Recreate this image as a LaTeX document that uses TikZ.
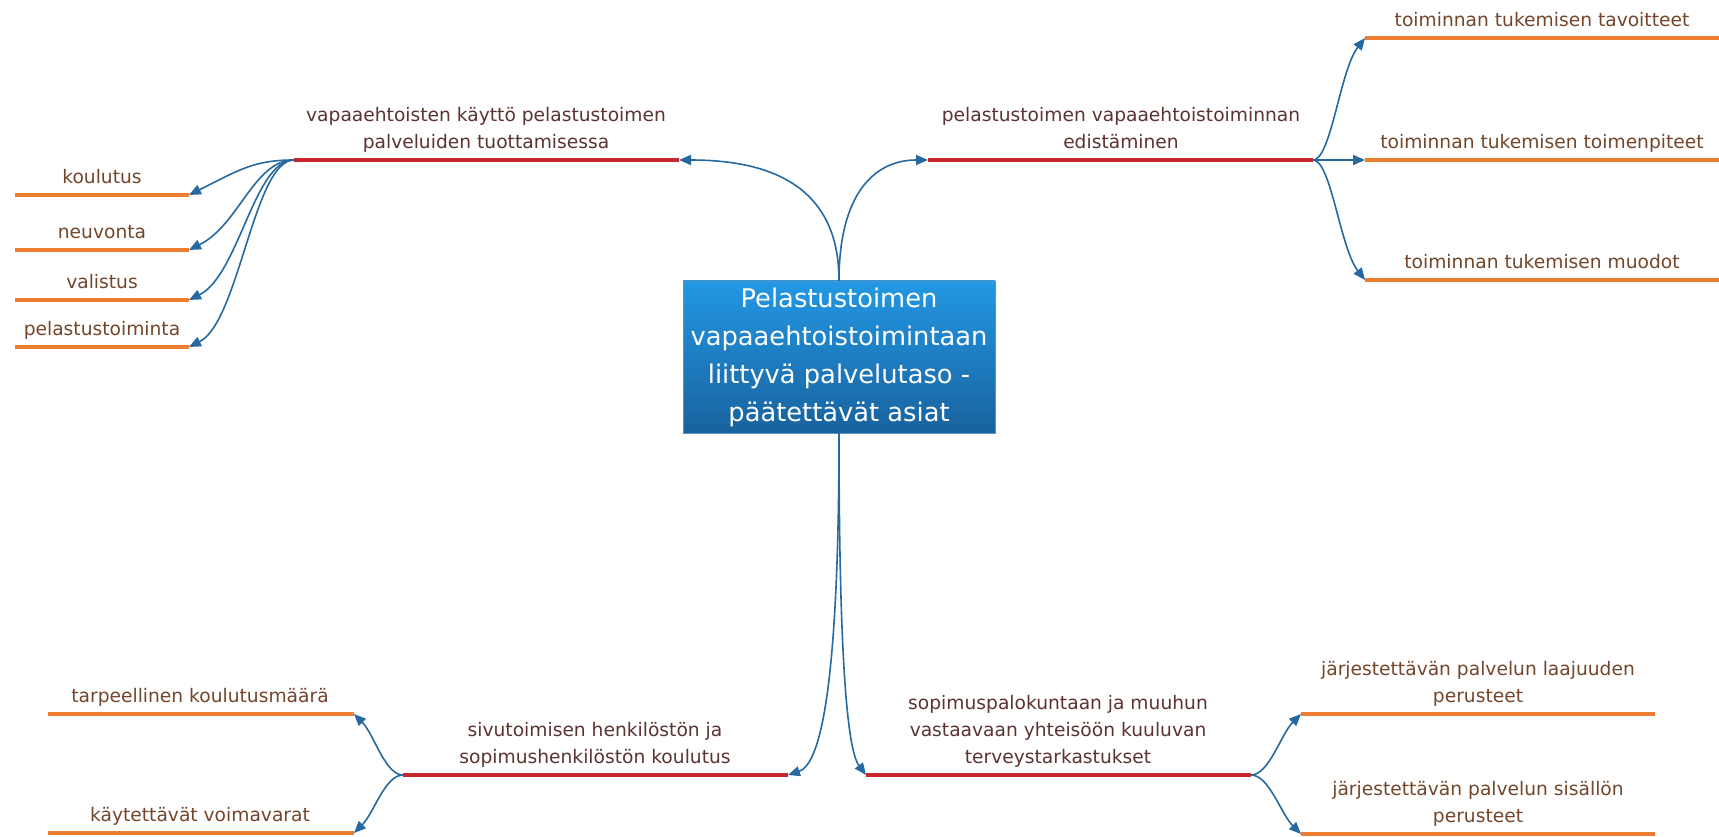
\documentclass[tikz,border=0pt]{standalone}
\usepackage{fontspec}
\setmainfont{DejaVu Sans}
\usetikzlibrary{arrows.meta}

\definecolor{connblue}{RGB}{38,105,160}
\definecolor{mainred}{RGB}{200,40,45}
\definecolor{suborange}{RGB}{237,125,49}
\definecolor{topictext}{RGB}{92,50,50}
\definecolor{subtext}{RGB}{115,70,42}
\definecolor{boxtop}{RGB}{35,152,228}
\definecolor{boxbot}{RGB}{24,98,158}

\begin{document}
\begin{tikzpicture}[x=0.75pt,y=-0.75pt,
  conn/.style={draw=connblue, line width=1.2pt, -{Triangle[length=9pt,width=7.5pt]}},
  redline/.style={draw=mainred, line width=3.6pt},
  orangeline/.style={draw=suborange, line width=3.4pt},
  rootbox/.style={top color=boxtop, bottom color=boxbot, draw=boxbot!70!white, line width=0.4pt,
    minimum width=234pt, minimum height=114pt, inner sep=0pt, align=center, text=white,
    font=\fontsize{19.3}{28.5}\selectfont},
  topiclabel/.style={anchor=south, inner sep=0pt, text depth=0pt, align=center, text=topictext,
    font=\fontsize{14}{20.25}\selectfont},
  sublabel/.style={anchor=south, inner sep=0pt, text depth=0pt, align=center, text=subtext,
    font=\fontsize{14}{20.25}\selectfont}]

\useasboundingbox (0,0) rectangle (1719,837);

% central topic
\node[rootbox] (root) at (839,357) {Pelastustoimen\\vapaaehtoistoimintaan\\liittyvä palvelutaso -\\päätettävät asiat};

% main topic underlines
\coordinate (t1L) at (294,160);  \coordinate (t1R) at (679,160);
\coordinate (t2L) at (928,160);  \coordinate (t2R) at (1313,160);
\coordinate (b1L) at (403,775);  \coordinate (b1R) at (788,775);
\coordinate (b2L) at (866,775);  \coordinate (b2R) at (1251,775);
\draw[redline] (t1L) -- (t1R);
\draw[redline] (t2L) -- (t2R);
\draw[redline] (b1L) -- (b1R);
\draw[redline] (b2L) -- (b2R);

\node[topiclabel] (t1txt) at (486,149) {vapaaehtoisten käyttö pelastustoimen\\palveluiden tuottamisessa};
\node[topiclabel] (t2txt) at (1121,149) {pelastustoimen vapaaehtoistoiminnan\\edistäminen};
\node[topiclabel] (b1txt) at (595,764) {sivutoimisen henkilöstön ja\\sopimushenkilöstön koulutus};
\node[topiclabel] (b2txt) at (1058,764) {sopimuspalokuntaan ja muuhun\\vastaavaan yhteisöön kuuluvan\\terveystarkastukset};

% subtopic underlines: left group
\coordinate (l1L) at (15,195);  \coordinate (l1R) at (189,195);
\coordinate (l2L) at (15,250);  \coordinate (l2R) at (189,250);
\coordinate (l3L) at (15,300);  \coordinate (l3R) at (189,300);
\coordinate (l4L) at (15,347);  \coordinate (l4R) at (189,347);
\foreach \n in {1,2,3,4} \draw[orangeline] (l\n L) -- (l\n R);
\node[sublabel] (l1txt) at (102,184) {koulutus};
\node[sublabel] (l2txt) at (102,239) {neuvonta};
\node[sublabel] (l3txt) at (102,289) {valistus};
\node[sublabel] (l4txt) at (102,336) {pelastustoiminta};

% subtopic underlines: right group
\coordinate (r1L) at (1365,38);   \coordinate (r1R) at (1719,38);
\coordinate (r2L) at (1365,160);  \coordinate (r2R) at (1719,160);
\coordinate (r3L) at (1365,280);  \coordinate (r3R) at (1719,280);
\foreach \n in {1,2,3} \draw[orangeline] (r\n L) -- (r\n R);
\node[sublabel] (r1txt) at (1542,27) {toiminnan tukemisen tavoitteet};
\node[sublabel] (r2txt) at (1542,149) {toiminnan tukemisen toimenpiteet};
\node[sublabel] (r3txt) at (1542,269) {toiminnan tukemisen muodot};

% subtopic underlines: bottom-left group
\coordinate (bl1L) at (48,714);  \coordinate (bl1R) at (354,714);
\coordinate (bl2L) at (48,833);  \coordinate (bl2R) at (354,833);
\draw[orangeline] (bl1L) -- (bl1R);
\draw[orangeline] (bl2L) -- (bl2R);
\node[sublabel] (bl1txt) at (200,703) {tarpeellinen koulutusmäärä};
\node[sublabel] (bl2txt) at (200,822) {käytettävät voimavarat};

% subtopic underlines: bottom-right group
\coordinate (br1L) at (1301,714);  \coordinate (br1R) at (1655,714);
\coordinate (br2L) at (1301,834);  \coordinate (br2R) at (1655,834);
\draw[orangeline] (br1L) -- (br1R);
\draw[orangeline] (br2L) -- (br2R);
\node[sublabel] (br1txt) at (1478,703) {järjestettävän palvelun laajuuden\\perusteet};
\node[sublabel] (br2txt) at (1478,823) {järjestettävän palvelun sisällön\\perusteet};

% connectors from the central topic
\draw[conn] (root.north) .. controls +(0,-85) and +(105,0) .. (t1R);
\draw[conn] (root.north) .. controls +(0,-85) and +(-55,0) .. (t2L);
\draw[conn] (root.south) .. controls +(0,270) and +(30,-10) .. (b1R);
\draw[conn] (root.south) .. controls +(0,270) and +(-15,-20) .. (b2L);

% connectors to the left group
\foreach \n in {1,2,3,4}
  \draw[conn] (t1L) .. controls +(-40,0) and +(50,-25) .. (l\n R);

% connectors to the right group
\draw[conn] (t2R) .. controls +(18,0) and +(-25,32) .. (r1L);
\draw[conn] (t2R) -- (r2L);
\draw[conn] (t2R) .. controls +(18,0) and +(-25,-32) .. (r3L);

% connectors to the bottom-left group
\draw[conn] (b1L) .. controls +(-18,0) and +(20,20) .. (bl1R);
\draw[conn] (b1L) .. controls +(-18,0) and +(20,-20) .. (bl2R);

% connectors to the bottom-right group
\draw[conn] (b2R) .. controls +(18,0) and +(-20,20) .. (br1L);
\draw[conn] (b2R) .. controls +(18,0) and +(-20,-20) .. (br2L);
\end{tikzpicture}
\end{document}
